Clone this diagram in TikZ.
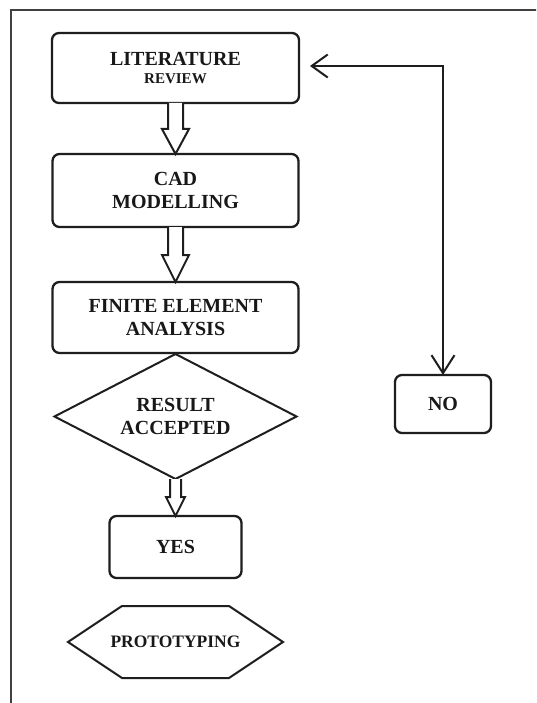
\documentclass[tikz,border=0pt]{standalone}
\usepackage{fontspec}
\setmainfont{Liberation Serif}
\usetikzlibrary{shapes.geometric,arrows.meta,calc}
\definecolor{ink}{HTML}{1E1E1E}
\definecolor{txt}{HTML}{181818}
\tikzset{
  box/.style={draw=ink, line width=2.3pt, rounded corners=7pt, inner sep=0pt, outer sep=0pt,
    align=center, text=txt, font=\bfseries\fontsize{20}{23}\selectfont},
  decision/.style={diamond, draw=ink, line width=2pt, inner sep=0pt, outer sep=0pt, aspect=1.94,
    align=center, text=txt, font=\bfseries\fontsize{20}{23}\selectfont},
  hexnode/.style={inner sep=0pt, outer sep=0pt, text=txt, font=\bfseries\fontsize{17.5}{20}\selectfont},
  hexline/.style={draw=ink, line width=2pt, line join=miter},
  hollow/.style={draw=ink, line width=2pt, fill=white, line join=miter},
  loopline/.style={draw=ink, line width=2pt, {Straight Barb[length=16pt,width=23pt,line width=2pt]}-{Straight Barb[length=18pt,width=23pt,line width=2pt]}},
  frameline/.style={draw=ink!85, line width=1.8pt}
}
\newcommand{\hollowarr}[5]{%
  \draw[hollow] ($(#1)+(-#3,0)$) -- ($(#2)+(-#3,-#5)$) -- ($(#2)+(-#4,-#5)$) -- (#2)
    -- ($(#2)+(#4,-#5)$) -- ($(#2)+(#3,-#5)$) -- ($(#1)+(#3,0)$);}
\begin{document}
\begin{tikzpicture}[x=1pt,y=-1pt]
\useasboundingbox[fill=white] (0,0) rectangle (536,703);
\clip (0,0) rectangle (536,703);
\draw[frameline] (11,705) -- (11,10) -- (540,10);

\node[box, minimum width=247pt, minimum height=70pt] (lit) at (175.5,68)
  {LITERATURE\\[-5pt]{\fontsize{15}{18}\selectfont REVIEW}};
\node[box, minimum width=246pt, minimum height=73pt] (cad) at (175.5,190.5) {CAD\\MODELLING};
\node[box, minimum width=246pt, minimum height=71pt] (fea) at (175.5,317.5) {FINITE ELEMENT\\ANALYSIS};
\node[decision, minimum width=242pt, minimum height=125pt] (dec) at (175.5,416.5) {RESULT\\ACCEPTED};
\node[box, minimum width=132pt, minimum height=62pt] (yes) at (175.5,547) {YES};
\node[hexnode, minimum width=215pt, minimum height=72pt] (proto) at (175.5,642) {PROTOTYPING};
\draw[hexline] (proto.west) -- ($(proto.north west)+(54,0)$) -- ($(proto.north east)+(-54,0)$)
  -- (proto.east) -- ($(proto.south east)+(-54,0)$) -- ($(proto.south west)+(54,0)$) -- cycle;
\node[box, minimum width=96pt, minimum height=58pt] (no) at (443,404) {NO};

\hollowarr{lit.south}{cad.north}{7.5}{13.5}{25}
\hollowarr{cad.south}{fea.north}{7.5}{13.5}{27}
\hollowarr{dec.south}{yes.north}{5.5}{9.5}{19}

\coordinate (litin) at ($(lit.east)+(11,-2)$);
\draw[loopline] (litin) -| (no.north);
\end{tikzpicture}
\end{document}
